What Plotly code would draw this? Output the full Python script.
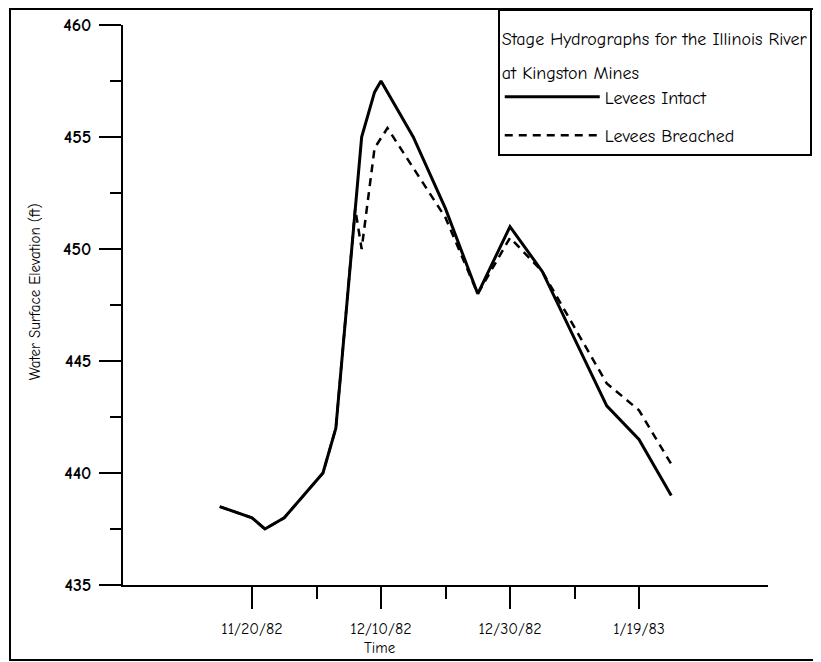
import plotly.graph_objects as go

# ---- data ----
intact_dates = ["1982-11-15", "1982-11-20", "1982-11-22", "1982-11-25", "1982-12-01",
                "1982-12-03", "1982-12-07", "1982-12-09", "1982-12-10", "1982-12-15",
                "1982-12-20", "1982-12-25", "1982-12-30", "1983-01-04", "1983-01-14",
                "1983-01-19", "1983-01-24"]
intact_stage = [438.5, 438.0, 437.5, 438.0, 440.0,
                442.0, 455.0, 457.0, 457.5, 455.0,
                451.8, 448.0, 451.0, 449.0, 443.0,
                441.5, 439.0]

breached_dates = ["1982-11-15", "1982-11-20", "1982-11-22", "1982-11-25", "1982-12-01",
                  "1982-12-03", "1982-12-06", "1982-12-07", "1982-12-09", "1982-12-11",
                  "1982-12-20", "1982-12-25", "1982-12-30", "1983-01-04", "1983-01-14",
                  "1983-01-19", "1983-01-24"]
breached_stage = [438.5, 438.0, 437.5, 438.0, 440.0,
                  442.0, 451.8, 450.0, 454.5, 455.4,
                  451.4, 448.0, 450.5, 449.0, 444.0,
                  442.8, 440.4]

x_tick_dates = ["1982-11-20", "1982-12-10", "1982-12-30", "1983-01-19"]
x_tick_labels = ["11/20/82", "12/10/82", "12/30/82", "1/19/83"]
x_minor_dates = ["1982-11-30", "1982-12-20", "1983-01-09"]
y_ticks = [435, 440, 445, 450, 455, 460]

FONT = "Comic Sans MS, Comic Neue, Open Sans, sans-serif"

fig = go.Figure()
fig.add_trace(go.Scatter(
    x=breached_dates, y=breached_stage, mode="lines", name="Levees Breached",
    line=dict(color="black", width=2.5, dash="8px,6px"),
    legendgroup="b", legendrank=2,
))
fig.add_trace(go.Scatter(
    x=intact_dates, y=intact_stage, mode="lines", name="Levees Intact",
    line=dict(color="black", width=3),
    legendgroup="a", legendrank=1,
))

legend_title = ("<span style='font-size:18px'>Stage Hydrographs for the Illinois River"
                "<br>at Kingston Mines</span>")

fig.update_layout(
    width=813, height=654,
    margin=dict(l=115, r=53, t=17, b=77, autoexpand=False),
    paper_bgcolor="white", plot_bgcolor="white",
    font=dict(family=FONT, color="black", size=16),
    legend=dict(
        x=0.581, y=1.0286, xanchor="left", yanchor="top",
        bgcolor="white", bordercolor="black", borderwidth=2,
        title=dict(text=legend_title, font=dict(family=FONT, size=26), side="top"),
        font=dict(family=FONT, size=18),
        itemwidth=95, tracegroupgap=12,
    ),
    xaxis=dict(
        type="date", range=["1982-10-31", "1983-02-08"], automargin=False,
        tickmode="array", tickvals=x_tick_dates, ticktext=x_tick_labels,
        ticks="outside", ticklen=22, tickwidth=2, tickcolor="black",
        ticklabelstandoff=6,
        minor=dict(tickmode="array", tickvals=x_minor_dates, ticks="outside",
                   ticklen=12, tickwidth=2, tickcolor="black"),
        showline=True, linecolor="black", linewidth=2,
        showgrid=False, zeroline=False,
        tickfont=dict(family=FONT, size=16),
    ),
    yaxis=dict(
        range=[435, 460], tickmode="array", tickvals=y_ticks, automargin=False,
        ticks="outside", ticklen=22, tickwidth=2, tickcolor="black",
        ticklabelstandoff=4,
        minor=dict(dtick=2.5, tick0=435, ticks="outside", ticklen=11,
                   tickwidth=2, tickcolor="black"),
        showline=True, linecolor="black", linewidth=2,
        showgrid=False, zeroline=False,
        tickfont=dict(family=FONT, size=18, weight="bold"),
    ),
    annotations=[
        dict(text="Water Surface Elevation (ft)", textangle=-90, showarrow=False,
             xref="paper", yref="paper", x=-0.1364, y=0.523,
             xanchor="center", yanchor="middle", font=dict(family=FONT, size=15)),
        dict(text="Time", showarrow=False, xref="paper", yref="paper",
             x=0.398, y=-0.1125, xanchor="center", yanchor="middle",
             font=dict(family=FONT, size=15)),
    ],
    shapes=[dict(type="rect", xref="paper", yref="paper",
                 x0=-0.1752, x1=1.0806, y0=-0.1339, y1=1.0286,
                 line=dict(color="black", width=2), layer="below")],
)

fig.write_html("out.html")
